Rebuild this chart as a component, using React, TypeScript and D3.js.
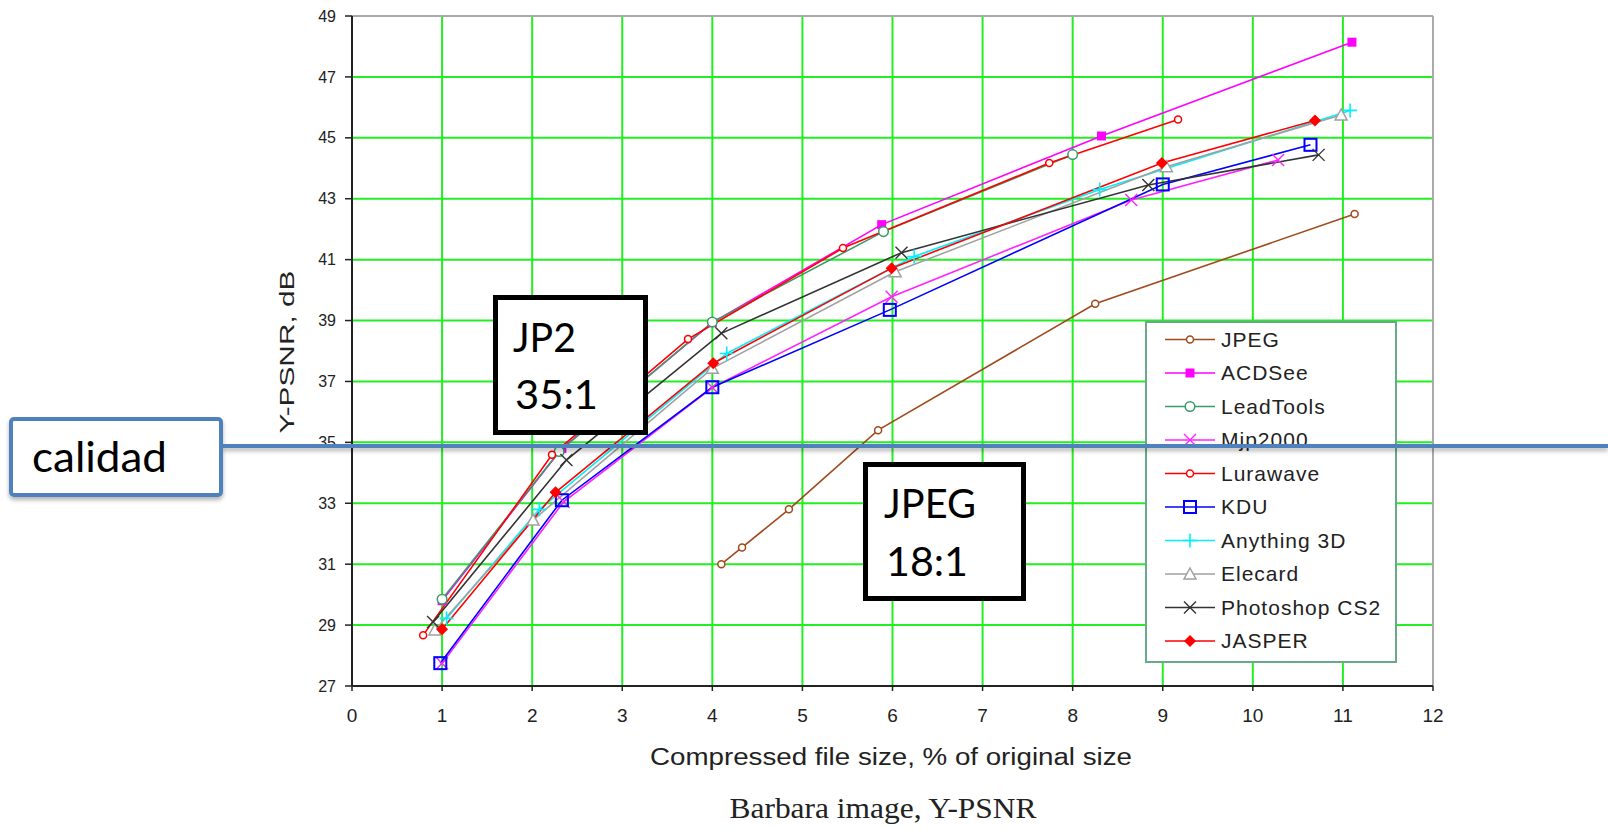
import * as d3 from 'd3';

// values: [compressed size %, Y-PSNR dB]
const JPEG_PTS = [[4.1, 31.0], [4.33, 31.55], [4.85, 32.8], [5.84, 35.4], [8.25, 39.55], [11.13, 42.5]];
const ACDSEE_PTS = [[1.0, 29.8], [2.33, 34.8], [4.0, 38.93], [5.88, 42.15], [8.32, 45.06], [11.1, 48.14]];
const LEADTOOLS_PTS = [[1.0, 29.85], [2.3, 34.7], [4.0, 38.95], [5.9, 41.92], [8.0, 44.45]];
const MJP2000_PTS = [[1.0, 27.75], [2.35, 33.05], [4.0, 36.8], [5.99, 39.78], [8.65, 42.96], [10.28, 44.27]];
const LURAWAVE_PTS = [[0.79, 28.67], [2.22, 34.59], [3.73, 38.39], [5.45, 41.38], [7.74, 44.17], [9.17, 45.6]];
const KDU_PTS = [[0.98, 27.75], [2.33, 33.1], [4.0, 36.81], [5.97, 39.35], [9.0, 43.47], [10.64, 44.77]];
const ANY3D_PTS = [[1.05, 29.22], [2.08, 32.8], [4.16, 37.92], [6.24, 41.1], [8.3, 43.3], [11.08, 45.9]];
const ELECARD_PTS = [[0.92, 28.84], [2.01, 32.45], [4.0, 37.43], [6.03, 40.6], [9.04, 44.05], [10.98, 45.75]];
const PHOTOSHOP_PTS = [[0.9, 29.1], [2.38, 34.42], [4.1, 38.58], [6.1, 41.23], [8.84, 43.45], [10.73, 44.44]];
const JASPER_PTS = [[1.0, 28.86], [2.26, 33.36], [4.01, 37.6], [5.99, 40.72], [8.99, 44.17], [10.69, 45.57]];

const SERIES_NAMES = ['JPEG', 'ACDSee', 'LeadTools', 'Mjp2000', 'Lurawave', 'KDU', 'Anything 3D', 'Elecard', 'Photoshop CS2', 'JASPER'];
const X_TICKS = d3.range(0, 13);
const Y_TICKS = d3.range(27, 50, 2);

const series = [
  { name: SERIES_NAMES[0], pts: JPEG_PTS, color: '#a04a1c', marker: 'dot' },
  { name: SERIES_NAMES[1], pts: ACDSEE_PTS, color: '#ff00ff', marker: 'squareFill' },
  { name: SERIES_NAMES[2], pts: LEADTOOLS_PTS, color: '#3a9a6a', marker: 'circle' },
  { name: SERIES_NAMES[3], pts: MJP2000_PTS, color: '#ff22ff', marker: 'x' },
  { name: SERIES_NAMES[4], pts: LURAWAVE_PTS, color: '#ff0000', marker: 'dot' },
  { name: SERIES_NAMES[5], pts: KDU_PTS, color: '#0000ff', marker: 'square' },
  { name: SERIES_NAMES[6], pts: ANY3D_PTS, color: '#00f0ff', marker: 'plus' },
  { name: SERIES_NAMES[7], pts: ELECARD_PTS, color: '#a0a0a0', marker: 'triangle' },
  { name: SERIES_NAMES[8], pts: PHOTOSHOP_PTS, color: '#333333', marker: 'x' },
  { name: SERIES_NAMES[9], pts: JASPER_PTS, color: '#ff0000', marker: 'diamond' },
];

const W = 1608;
const H = 829;
const left = 352, right = 1433, top = 16, bottom = 686;

const Marker = ({ type, cx, cy, color }) => {
  switch (type) {
    case 'dot':
      return <circle cx={cx} cy={cy} r={3.5} fill="white" stroke={color} strokeWidth={1.5} />;
    case 'circle':
      return <circle cx={cx} cy={cy} r={4.8} fill="white" stroke={color} strokeWidth={1.5} />;
    case 'squareFill':
      return <rect x={cx - 4.5} y={cy - 4.5} width={9} height={9} fill={color} />;
    case 'square':
      return <rect x={cx - 6} y={cy - 6} width={12} height={12} fill="none" stroke={color} strokeWidth={2} />;
    case 'x':
      return (
        <path d={`M${cx - 6},${cy - 6}L${cx + 6},${cy + 6}M${cx - 6},${cy + 6}L${cx + 6},${cy - 6}`}
          stroke={color} strokeWidth={1.4} />
      );
    case 'plus':
      return (
        <path d={`M${cx - 7},${cy}L${cx + 7},${cy}M${cx},${cy - 7}L${cx},${cy + 7}`}
          stroke={color} strokeWidth={1.6} />
      );
    case 'triangle':
      return (
        <path d={`M${cx},${cy - 6}L${cx + 6},${cy + 5}L${cx - 6},${cy + 5}Z`}
          fill="white" stroke={color} strokeWidth={1.5} />
      );
    case 'diamond':
      return <path d={`M${cx},${cy - 6}L${cx + 6},${cy}L${cx},${cy + 6}L${cx - 6},${cy}Z`} fill={color} />;
    default:
      return null;
  }
};

const App = () => {
  const xScale = d3.scaleLinear().domain([0, 12]).range([left, right]);
  const yScale = d3.scaleLinear().domain([27, 49]).range([bottom, top]);
  const line = d3.line().x((d) => xScale(d[0])).y((d) => yScale(d[1]));

  const sans = 'Liberation Sans, Arial, sans-serif';
  const calibri = 'Lato, Carlito, Calibri, sans-serif';

  return (
    <div style={{ position: 'absolute', left: 0, top: 0 }}>
      <svg width={W} height={H} style={{ display: 'block', background: 'white' }}>
        <defs>
          <filter id="shadow" x="-5%" y="-200%" width="110%" height="500%">
            <feDropShadow dx="0" dy="3" stdDeviation="2" floodColor="#000" floodOpacity="0.3" />
          </filter>
        </defs>

        {/* grid */}
        {X_TICKS.slice(1, -1).map((t) => (
          <line key={'gx' + t} x1={xScale(t)} x2={xScale(t)} y1={top} y2={bottom} stroke="#22ee22" strokeWidth={2} />
        ))}
        {Y_TICKS.slice(1, -1).map((t) => (
          <line key={'gy' + t} x1={left} x2={right} y1={yScale(t)} y2={yScale(t)} stroke="#22ee22" strokeWidth={2} />
        ))}
        <line x1={left} x2={right} y1={top} y2={top} stroke="#aaaaaa" strokeWidth={2} />
        <line x1={right} x2={right} y1={top} y2={bottom} stroke="#aaaaaa" strokeWidth={2} />

        {/* axes */}
        <line x1={left} x2={left} y1={top} y2={bottom} stroke="#222" strokeWidth={2} />
        <line x1={left} x2={right} y1={bottom} y2={bottom} stroke="#222" strokeWidth={2} />
        {Y_TICKS.map((t) => (
          <g key={'yt' + t}>
            <line x1={left - 7} x2={left} y1={yScale(t)} y2={yScale(t)} stroke="#222" strokeWidth={1.5} />
            <text x={left - 16} y={yScale(t)} dy="0.35em" textAnchor="end" fontFamily={sans} fontSize={16} fill="#222">
              {t}
            </text>
          </g>
        ))}
        {X_TICKS.map((t) => (
          <g key={'xt' + t}>
            <line x1={xScale(t)} x2={xScale(t)} y1={bottom} y2={bottom + 5} stroke="#222" strokeWidth={1.5} />
            <text x={xScale(t)} y={715} dy="0.35em" textAnchor="middle" fontFamily={sans} fontSize={19} fill="#222">
              {t}
            </text>
          </g>
        ))}
        <text transform="translate(287,352) rotate(-90)" dy="0.35em" textAnchor="middle" fontFamily={sans}
          fontSize={20} fill="#222" textLength={163} lengthAdjust="spacingAndGlyphs">
          Y-PSNR, dB
        </text>
        <text x={891} y={757} dy="0.35em" textAnchor="middle" fontFamily={sans} fontSize={23} fill="#222"
          textLength={482} lengthAdjust="spacingAndGlyphs">
          Compressed file size, % of original size
        </text>
        <text x={883} y={818} textAnchor="middle" fontFamily="Liberation Serif, Times New Roman, serif" fontSize={29}
          fill="#222" textLength={307} lengthAdjust="spacingAndGlyphs">
          Barbara image, Y-PSNR
        </text>

        {/* series */}
        {series.map((s) => (
          <path key={'l' + s.name} d={line(s.pts)} fill="none" stroke={s.color} strokeWidth={1.6} />
        ))}
        {series.map((s) =>
          s.pts.map((p, i) => (
            <Marker key={s.name + i} type={s.marker} cx={xScale(p[0])} cy={yScale(p[1])} color={s.color} />
          ))
        )}

        {/* legend */}
        <rect x={1146} y={322} width={250} height={340} fill="white" stroke="#6aa88a" strokeWidth={2} />
        {series.map((s, i) => {
          const ly = 339.5 + i * 33.5;
          return (
            <g key={'lg' + s.name}>
              <line x1={1165} x2={1215} y1={ly} y2={ly} stroke={s.color} strokeWidth={1.6} />
              <Marker type={s.marker} cx={1190} cy={ly} color={s.color} />
              <text x={1221} y={ly} dy="0.35em" fontFamily={sans} fontSize={21} letterSpacing={1} fill="#222">
                {s.name}
              </text>
            </g>
          );
        })}

        {/* annotations */}
        <rect x={495.5} y={297.5} width={150} height={135} fill="white" stroke="black" strokeWidth={5} />
        <text x={513} y={352} fontFamily={calibri} fontSize={40} fill="black" textLength={63} lengthAdjust="spacingAndGlyphs">JP2</text>
        <text x={515} y={409} fontFamily={calibri} fontSize={40} fill="black" textLength={83} lengthAdjust="spacingAndGlyphs">35:1</text>

        <rect x={865.5} y={464.5} width={158} height={134} fill="white" stroke="black" strokeWidth={5} />
        <text x={884} y={518} fontFamily={calibri} fontSize={40} fill="black" textLength={92} lengthAdjust="spacingAndGlyphs">JPEG</text>
        <text x={886} y={576} fontFamily={calibri} fontSize={40} fill="black" textLength={82} lengthAdjust="spacingAndGlyphs">18:1</text>

        <g filter="url(#shadow)">
          <line x1={221} x2={W} y1={446} y2={446} stroke="#4f81bd" strokeWidth={4} />
          <rect x={11} y={419} width={210} height={76} rx={3} fill="white" stroke="#4f81bd" strokeWidth={4} />
        </g>
        <text x={32} y={472} fontFamily={calibri} fontSize={42} fill="black" textLength={135} lengthAdjust="spacingAndGlyphs">
          calidad
        </text>
      </svg>
    </div>
  );
};

export default App;
